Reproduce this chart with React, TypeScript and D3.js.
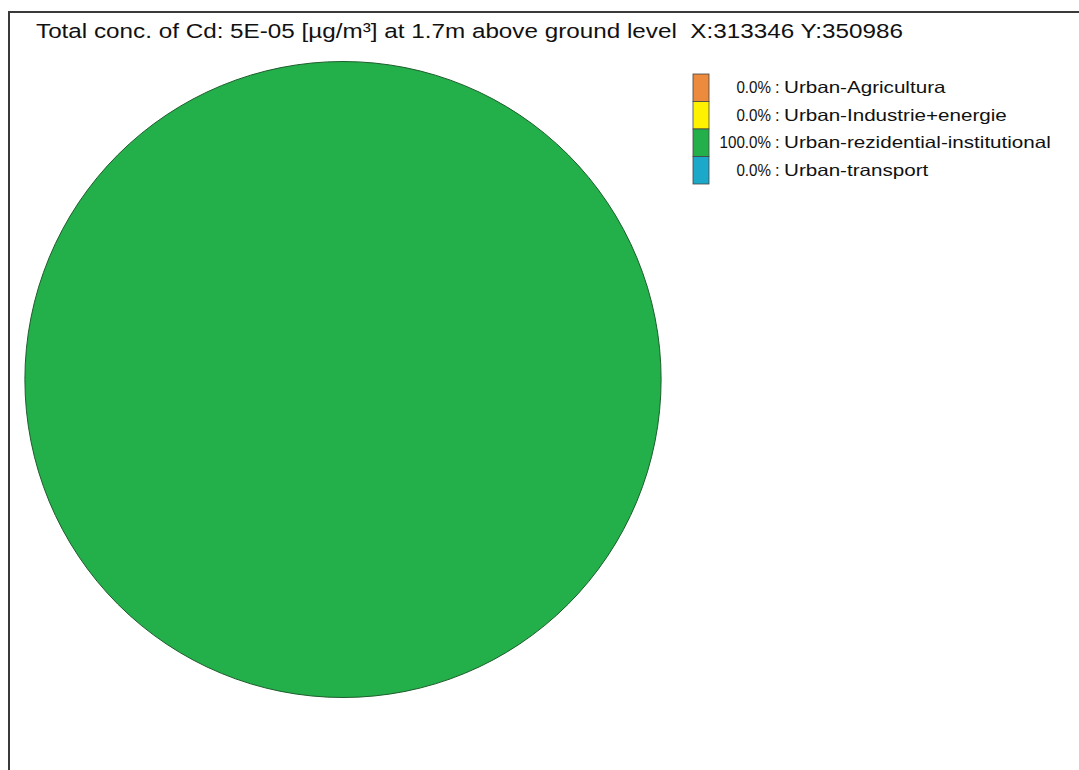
import React from "react";
import * as d3 from "d3";

const categories = [
  "Urban-Agricultura",
  "Urban-Industrie+energie",
  "Urban-rezidential-institutional",
  "Urban-transport",
];
const shares = [0.0, 0.0, 100.0, 0.0];
const colors = ["#EC8B3E", "#FFF200", "#23B04A", "#1CA9C9"];
const titleText =
  "Total conc. of Cd: 5E-05 [\u00B5g/m\u00B3] at 1.7m above ground level\u00A0\u00A0X:313346 Y:350986";

const W = 1079;
const H = 770;

export default function App() {
  const cx = 343;
  const cy = 379.5;
  const r = 318;
  const pie = d3.pie<number>().sort(null).value((d) => d);
  const arcs = pie(shares);
  const arc = d3.arc<d3.PieArcDatum<number>>().innerRadius(0).outerRadius(r);

  const legendX = 693;
  const legendY = 74;
  const rowH = 27.5;
  const swW = 16;

  return (
    <svg
      width={W}
      height={H}
      style={{ position: "absolute", left: 0, top: 0, background: "#fff" }}
      fontFamily="'Liberation Sans', Arial, sans-serif"
    >
      <rect x={0} y={0} width={W} height={H} fill="#ffffff" />
      <path
        d={`M9,${H + 5} L9,12 L${W + 5},12`}
        fill="none"
        stroke="#3a3a3a"
        strokeWidth={2}
      />
      <text
        x={36}
        y={38}
        fontSize={20.5}
        fill="#111"
        textLength={867}
        lengthAdjust="spacingAndGlyphs"
      >
        {titleText}
      </text>
      <g transform={`translate(${cx},${cy})`}>
        {arcs.map((a, i) =>
          a.endAngle - a.startAngle > 0 ? (
            <path key={i} d={arc(a) || ""} fill={colors[i]} stroke="#1d5e2c" strokeWidth={1} />
          ) : null
        )}
      </g>
      <g>
        {categories.map((c, i) => {
          const ty = legendY + i * rowH + rowH / 2 + 5.5;
          return (
            <g key={c}>
              <rect
                x={legendX}
                y={legendY + i * rowH}
                width={swW}
                height={rowH}
                fill={colors[i]}
                stroke="#444"
                strokeWidth={0.8}
              />
              <text
                transform={`translate(771,${ty}) scale(0.92,1)`}
                fontSize={16.5}
                textAnchor="end"
                fill="#111"
              >
                {shares[i].toFixed(1) + "%"}
              </text>
              <text x={775} y={ty} fontSize={16.5} fill="#111">
                {":"}
              </text>
              <text
                transform={`translate(784,${ty}) scale(1.25,1)`}
                fontSize={16.5}
                fill="#111"
              >
                {c}
              </text>
            </g>
          );
        })}
      </g>
    </svg>
  );
}
